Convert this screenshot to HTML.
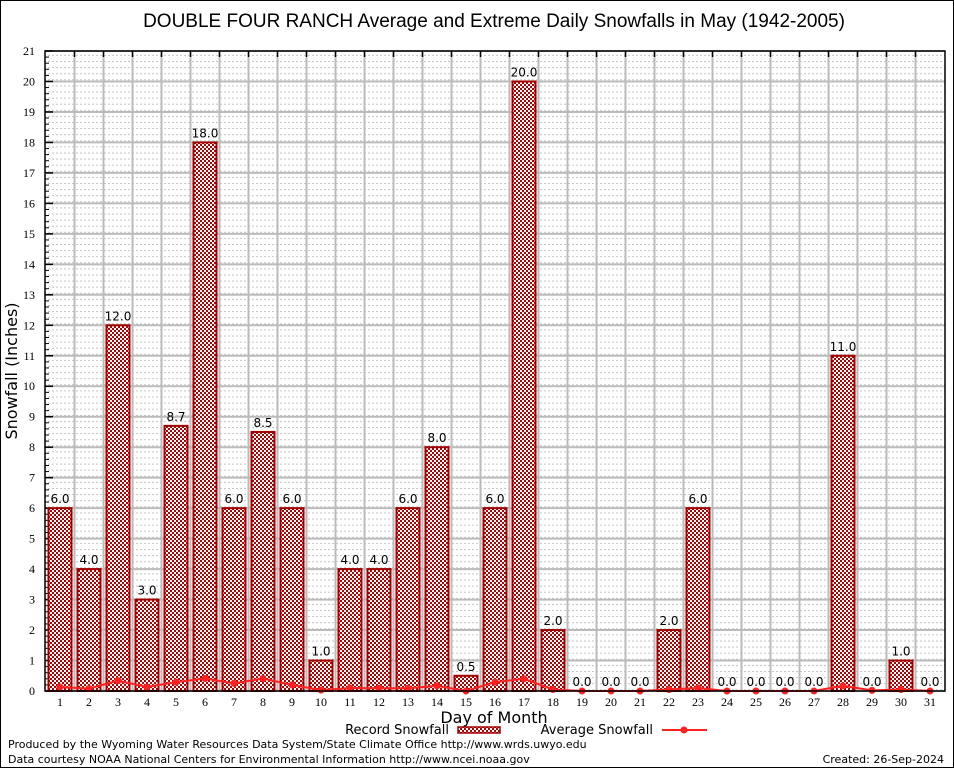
<!DOCTYPE html>
<html><head><meta charset="utf-8"><style>
body{margin:0;background:#fff}
svg{display:block;font-family:"DejaVu Sans","Liberation Sans",sans-serif}
</style></head><body>
<svg id="c" width="954" height="768" xmlns="http://www.w3.org/2000/svg">
<defs>
<pattern id="hatch" width="4" height="4" patternUnits="userSpaceOnUse">
<rect width="4" height="4" fill="#fff"/><rect width="2" height="2" fill="#b00000"/><rect x="2" y="2" width="2" height="2" fill="#b00000"/>
</pattern>
<pattern id="dots" width="4" height="6.1" patternUnits="userSpaceOnUse">
<rect width="4" height="6.1" fill="#fff"/><rect width="2" height="1" fill="#c4c4c4"/>
</pattern>
</defs>
<rect x="0.5" y="0.5" width="953" height="767" fill="#fff" stroke="#000"/>
<text x="494" y="27" font-size="19" text-anchor="middle" font-family="Liberation Sans,sans-serif">DOUBLE FOUR RANCH Average and Extreme Daily Snowfalls in May (1942-2005)</text>
<g id="plot"></g>
<text x="17" y="371" font-size="16" text-anchor="middle" transform="rotate(-90 17 371)">Snowfall (Inches)</text>
<text x="494" y="723" font-size="16" text-anchor="middle">Day of Month</text>
<g>
<text x="449" y="734" font-size="13" text-anchor="end">Record Snowfall</text>
<rect x="458" y="727" width="42" height="6" fill="url(#hatch)" stroke="#a00000" stroke-width="1.5"/>
<text x="653" y="734" font-size="13" text-anchor="end">Average Snowfall</text>
<line x1="662" y1="730" x2="707" y2="730" stroke="#ff2020" stroke-width="2"/>
<circle cx="684" cy="730" r="3.5" fill="#ff2020"/>
</g>
<text x="8" y="748" font-size="11">Produced by the Wyoming Water Resources Data System/State Climate Office http://www.wrds.uwyo.edu</text>
<text x="8" y="763" font-size="11">Data courtesy NOAA National Centers for Environmental Information http://www.ncei.noaa.gov</text>
<text x="944" y="763" font-size="11" text-anchor="end">Created: 26-Sep-2024</text>
</svg>
<script>
const days=[1,2,3,4,5,6,7,8,9,10,11,12,13,14,15,16,17,18,19,20,21,22,23,24,25,26,27,28,29,30,31];
const records=[6,4,12,3,8.7,18,6,8.5,6,1,4,4,6,8,0.5,6,20,2,0,0,0,2,6,0,0,0,0,11,0,1,0];
const averages=[0.13,0.08,0.34,0.13,0.29,0.41,0.25,0.41,0.2,0.03,0.1,0.09,0.09,0.17,0.0,0.29,0.4,0.05,0,0,0,0.05,0.1,0,0,0,0,0.17,0.02,0.05,0];
const yTicks=[0,1,2,3,4,5,6,7,8,9,10,11,12,13,14,15,16,17,18,19,20,21];
const NS="http://www.w3.org/2000/svg";
const L=45,R=945,T=51,B=691,yMax=21;
const x=d=>60+(d-1)*29;
const y=v=>B-(v/yMax)*(B-T);
const g=document.getElementById('plot');
function mk(t,a){const e=document.createElementNS(NS,t);for(const k in a)e.setAttribute(k,a[k]);g.appendChild(e);return e;}
let e=mk('rect',{x:L,y:T,width:R-L,height:B-T,fill:'url(#dots)'});


yTicks.forEach(v=>{
 let l=mk('line',{x1:L,x2:R,y1:y(v),y2:y(v),stroke:'#bbb','stroke-width':2});
 
 
 let t=mk('text',{x:35,y:y(v)+4,'font-size':12,'text-anchor':'end','font-family':'Liberation Serif,serif'});
 t.textContent=v;
 
 
 mk('line',{x1:L,x2:L+8,y1:y(v),y2:y(v),stroke:'#000','stroke-width':1.5});
 if(v<yMax)for(let k=1;k<5;k++){mk('line',{x1:L,x2:L+4,y1:y(v+k/5),y2:y(v+k/5),stroke:'#000'});}
});
for(let d=1;d<31;d++){
 let l=mk('line',{x1:x(d)+14.5,x2:x(d)+14.5,y1:T,y2:B,stroke:'#bbb','stroke-width':2});
 
 
 mk('line',{x1:x(d)+14.5,x2:x(d)+14.5,y1:T,y2:T+6,stroke:'#000','stroke-width':1.5});
}
days.forEach((d,i)=>{
 const v=records[i];
 if(v>0){
  let b=mk('rect',{x:x(d)-11.5,y:y(v),width:23,height:B-y(v),fill:'url(#hatch)',stroke:'#a00000','stroke-width':2});
  
  
 }
 let t=mk('text',{x:x(d),y:y(v)-5,'font-size':12,'text-anchor':'middle'});
 t.textContent=v.toFixed(1);
 
 
 let xl=mk('text',{x:x(d),y:B+15,'font-size':12,'text-anchor':'middle','font-family':'Liberation Serif,serif'});
 xl.textContent=d;
 
 
});
let pts=days.map((d,i)=>x(d)+','+y(averages[i])).join(' ');
let pl=mk('polyline',{points:pts,fill:'none',stroke:'#ff2020','stroke-width':2});


days.forEach((d,i)=>{
 let c=mk('circle',{cx:x(d),cy:y(averages[i]),r:3.5,fill:'#ff2020'});
 
 
});
let fr=mk('rect',{x:L,y:T,width:R-L,height:B-T,fill:'none',stroke:'#000','stroke-width':1.5});


</script>
</body></html>
